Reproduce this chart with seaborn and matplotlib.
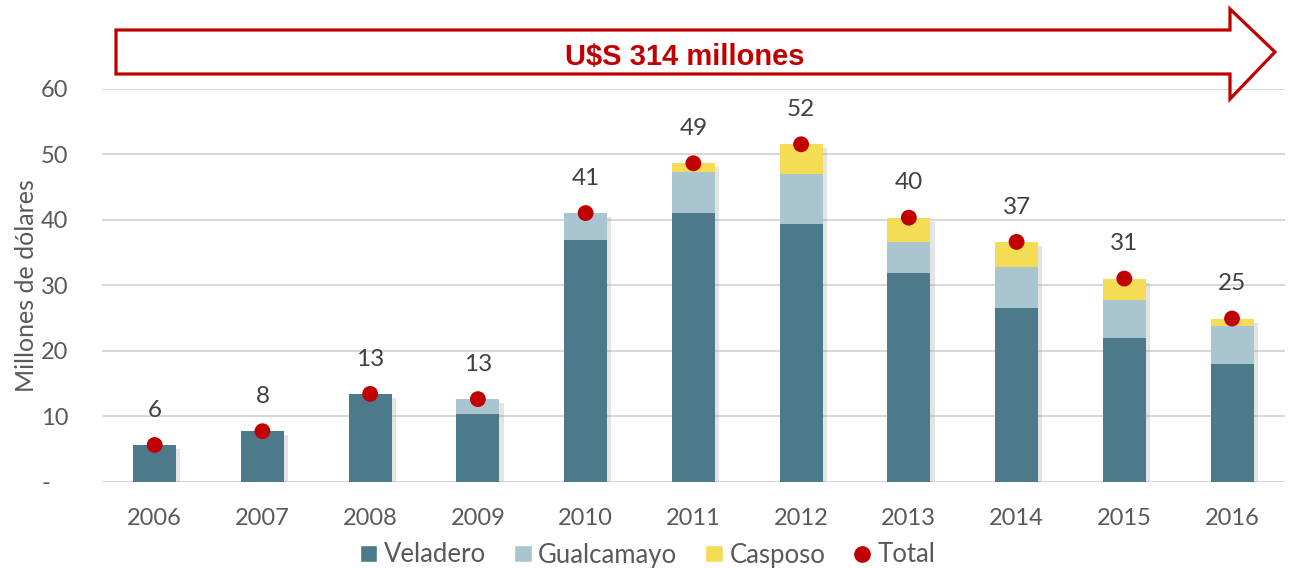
import numpy as np
import pandas as pd
import matplotlib.pyplot as plt
import matplotlib.patheffects as pe
from matplotlib.patches import Patch, Polygon
from matplotlib.lines import Line2D
import seaborn as sns

# datos (millones de dólares)
anios = ["2006", "2007", "2008", "2009", "2010", "2011", "2012", "2013", "2014", "2015", "2016"]
veladero = [5.6, 7.7, 13.4, 10.3, 36.9, 41.0, 39.3, 31.8, 26.5, 21.9, 17.9]
gualcamayo = [0, 0, 0, 2.3, 4.1, 6.3, 7.6, 4.8, 6.3, 5.9, 5.8]
casposo = [0, 0, 0, 0, 0, 1.3, 4.6, 3.7, 3.8, 3.2, 1.2]
ytick_labels = ["-   ", "10", "20", "30", "40", "50", "60"]

azul = "#4D7A8A"
celeste = "#A9C5CF"
amarillo = "#F5DC55"
rojo = "#C00000"
gris = "#595959"

df = pd.DataFrame({"Año": anios, "Veladero": veladero,
                   "Gualcamayo": gualcamayo, "Casposo": casposo})
df["Gual_top"] = df["Veladero"] + df["Gualcamayo"]
df["Total"] = df["Gual_top"] + df["Casposo"]

sns.set_theme(style="white")
plt.rcParams["font.family"] = ["Lato", "DejaVu Sans"]

fig = plt.figure(figsize=(12.9, 5.68), dpi=100)
ax = fig.add_axes([0.079, 0.152, 0.917, 0.692])

# barras apiladas: se dibuja primero el total y encima las capas inferiores
sombra = [pe.SimplePatchShadow(offset=(3, -3), shadow_rgbFace="#888888", alpha=0.22), pe.Normal()]
sns.barplot(data=df, x="Año", y="Total", color=amarillo, width=0.4, saturation=1,
            linewidth=0, ax=ax)
for p in ax.patches:
    p.set_path_effects(sombra)
sns.barplot(data=df, x="Año", y="Gual_top", color=celeste, width=0.4, saturation=1,
            linewidth=0, ax=ax)
sns.barplot(data=df, x="Año", y="Veladero", color=azul, width=0.4, saturation=1,
            linewidth=0, ax=ax)

sns.scatterplot(x=np.arange(len(anios)), y=df["Total"], color=rojo, s=130,
                edgecolor="none", zorder=5, ax=ax)

for i, t in enumerate(df["Total"]):
    ax.annotate(f"{t:.0f}", (i, t), xytext=(0, 25), textcoords="offset points",
                ha="center", va="center", fontsize=17.5, color="#404040")

ax.set_ylim(0, 60)
ax.set_xlim(-0.49, 10.49)
ax.set_yticks(range(0, 61, 10))
ax.set_yticklabels(ytick_labels)
ax.grid(axis="y", color="#D9D9D9", lw=1.5)
ax.set_axisbelow(True)
sns.despine(ax=ax, left=True, bottom=True)
ax.tick_params(axis="y", length=0, pad=24, labelsize=17, labelcolor=gris)
ax.tick_params(axis="x", length=0, pad=19, labelsize=17, labelcolor=gris)
ax.set_xlabel("")
ax.set_ylabel("Millones de dólares", fontsize=18, color=gris)
ax.yaxis.set_label_coords(-0.054, 0.5)

# flecha superior
W, H = 1290, 568
pts = [(116, 30), (1230, 30), (1230, 9), (1275, 52), (1230, 99), (1230, 74), (116, 74)]
flecha = Polygon([(x / W, 1 - y / H) for x, y in pts], closed=True, facecolor="none",
                 edgecolor=rojo, lw=2.3, transform=fig.transFigure)
fig.add_artist(flecha)
fig.text(685 / W, 1 - 57 / H, r"U\$S 314 millones", ha="center", va="center",
         fontsize=21, fontweight="bold", color=rojo, family="Liberation Sans")

handles = [Patch(facecolor=azul), Patch(facecolor=celeste), Patch(facecolor=amarillo),
           Line2D([], [], marker="o", color=rojo, linestyle="none", markersize=11)]
fig.legend(handles, ["Veladero", "Gualcamayo", "Casposo", "Total"], loc="center",
           bbox_to_anchor=(0.502, 1 - 555 / H), ncol=4, frameon=False, fontsize=18.5,
           handlelength=0.68, handleheight=0.68, handletextpad=0.25, columnspacing=1.1,
           labelcolor=gris)

fig.savefig("out.png", dpi=100)
